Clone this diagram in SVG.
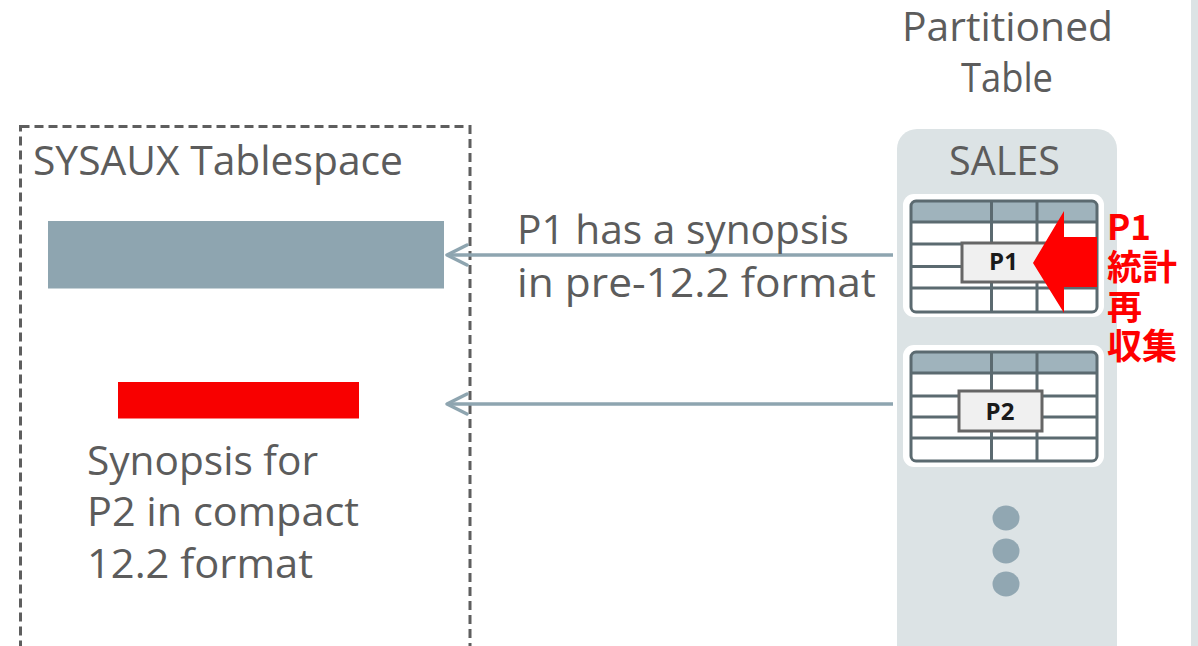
<svg xmlns="http://www.w3.org/2000/svg" width="1198" height="646" viewBox="0 0 1198 646">
  <style>
    .lbl { font-family: "Open Sans", "Noto Sans", "Liberation Sans", sans-serif; font-size: 40px; fill: #5c5c5c; }
    .cell { font-family: "Open Sans", "Liberation Sans", sans-serif; font-size: 24px; font-weight: bold; fill: #1a1a1a; }
    .note { font-family: "Noto Sans CJK JP", "Noto Sans CJK SC", sans-serif; font-size: 35px; font-weight: bold; fill: #ff0000; }
    .grid { fill: none; stroke: #5b6a70; stroke-width: 3; }
    .hdr { fill: #9fb3bc; }
    .card { fill: #ffffff; }
    .tag { fill: #f0f0f0; stroke: #666666; stroke-width: 3; }
    .link { fill: none; stroke: #8ea5b0; stroke-width: 3.5; }
    .head { fill: none; stroke: #8ea5b0; stroke-width: 3.5; stroke-linecap: round; stroke-linejoin: round; }
    .dot { fill: #91a7b2; }
  </style>

  <rect x="0" y="0" width="1198" height="646" fill="#ffffff"/>
  <!-- neighbouring panel edge -->
  <rect x="1191" y="0" width="7" height="646" fill="#dce3e5"/>

  <!-- SYSAUX tablespace -->
  <g id="sysaux">
    <rect x="20.5" y="126.5" width="449.5" height="540" fill="none" stroke="#5e5e5e" stroke-width="3" stroke-dasharray="9 5"/>
    <text class="lbl" x="33" y="175" textLength="370" lengthAdjust="spacingAndGlyphs">SYSAUX Tablespace</text>
  </g>

  <g id="synopsis-p1">
    <rect x="48" y="221" width="396" height="67.5" fill="#8ea5b0"/>
  </g>

  <g id="synopsis-p2">
    <rect x="118" y="382" width="241" height="36.5" fill="#f80000"/>
    <text class="lbl" x="87" y="475" textLength="231" lengthAdjust="spacingAndGlyphs">Synopsis for</text>
    <text class="lbl" x="87" y="526" textLength="272" lengthAdjust="spacingAndGlyphs">P2 in compact</text>
    <text class="lbl" x="87" y="578" textLength="226" lengthAdjust="spacingAndGlyphs">12.2 format</text>
  </g>

  <!-- partitioned table -->
  <g id="sales">
    <text class="lbl" x="902" y="41" textLength="211" lengthAdjust="spacingAndGlyphs">Partitioned</text>
    <text class="lbl" x="961" y="92" textLength="92" lengthAdjust="spacingAndGlyphs">Table</text>
    <rect x="897" y="129" width="220" height="540" rx="20" fill="#dce3e5"/>
    <text class="lbl" x="949" y="175" textLength="111" lengthAdjust="spacingAndGlyphs">SALES</text>
  </g>

  <g id="partition-p1">
    <rect class="card" x="903" y="194" width="201" height="123" rx="11"/>
    <rect class="hdr" x="911" y="201" width="186" height="21" rx="4"/>
    <path class="grid" d="M911 222 H1097 M911 244 H1097 M911 266.5 H1097 M911 288 H1097 M991.5 201 V312 M1037 201 V312"/>
    <rect class="grid" x="911" y="201" width="186" height="111" rx="5"/>
    <rect class="tag" x="962" y="243" width="85" height="39"/>
    <text class="cell" x="1003.5" y="270" text-anchor="middle">P1</text>
    <polygon points="1033,263 1064,211 1064,237 1097,237 1097,287 1064,287 1064,313" fill="#ff0000"/>
  </g>

  <g id="partition-p2">
    <rect class="card" x="903" y="345" width="201" height="122" rx="11"/>
    <rect class="hdr" x="911" y="352" width="186" height="21" rx="4"/>
    <path class="grid" d="M911 373 H1097 M911 396 H1097 M911 417 H1097 M911 438 H1097 M991.5 352 V461 M1037 352 V461"/>
    <rect class="grid" x="911" y="352" width="186" height="109" rx="5"/>
    <rect class="tag" x="959" y="391" width="83" height="40"/>
    <text class="cell" x="1000" y="419.5" text-anchor="middle">P2</text>
  </g>

  <g id="more-partitions">
    <ellipse class="dot" cx="1006" cy="518" rx="13.5" ry="12.5"/>
    <ellipse class="dot" cx="1006" cy="551" rx="13.5" ry="12.5"/>
    <ellipse class="dot" cx="1006" cy="584" rx="13.5" ry="12.5"/>
  </g>

  <g id="regather-note">
    <text class="note" x="1107" y="240">P1</text>
    <text class="note" x="1107" y="280">統計</text>
    <text class="note" x="1107" y="320">再</text>
    <text class="note" x="1107" y="359">収集</text>
  </g>

  <!-- connectors -->
  <g id="connectors">
    <path class="link" d="M893 255 H447"/>
    <path class="head" d="M467 245 L447 255 L467 265"/>
    <text class="lbl" x="517" y="244" textLength="332" lengthAdjust="spacingAndGlyphs">P1 has a synopsis</text>
    <text class="lbl" x="517" y="297" textLength="359" lengthAdjust="spacingAndGlyphs">in pre-12.2 format</text>
    <path class="link" d="M893 404 H447"/>
    <path class="head" d="M467 394 L447 404 L467 414"/>
  </g>
</svg>
